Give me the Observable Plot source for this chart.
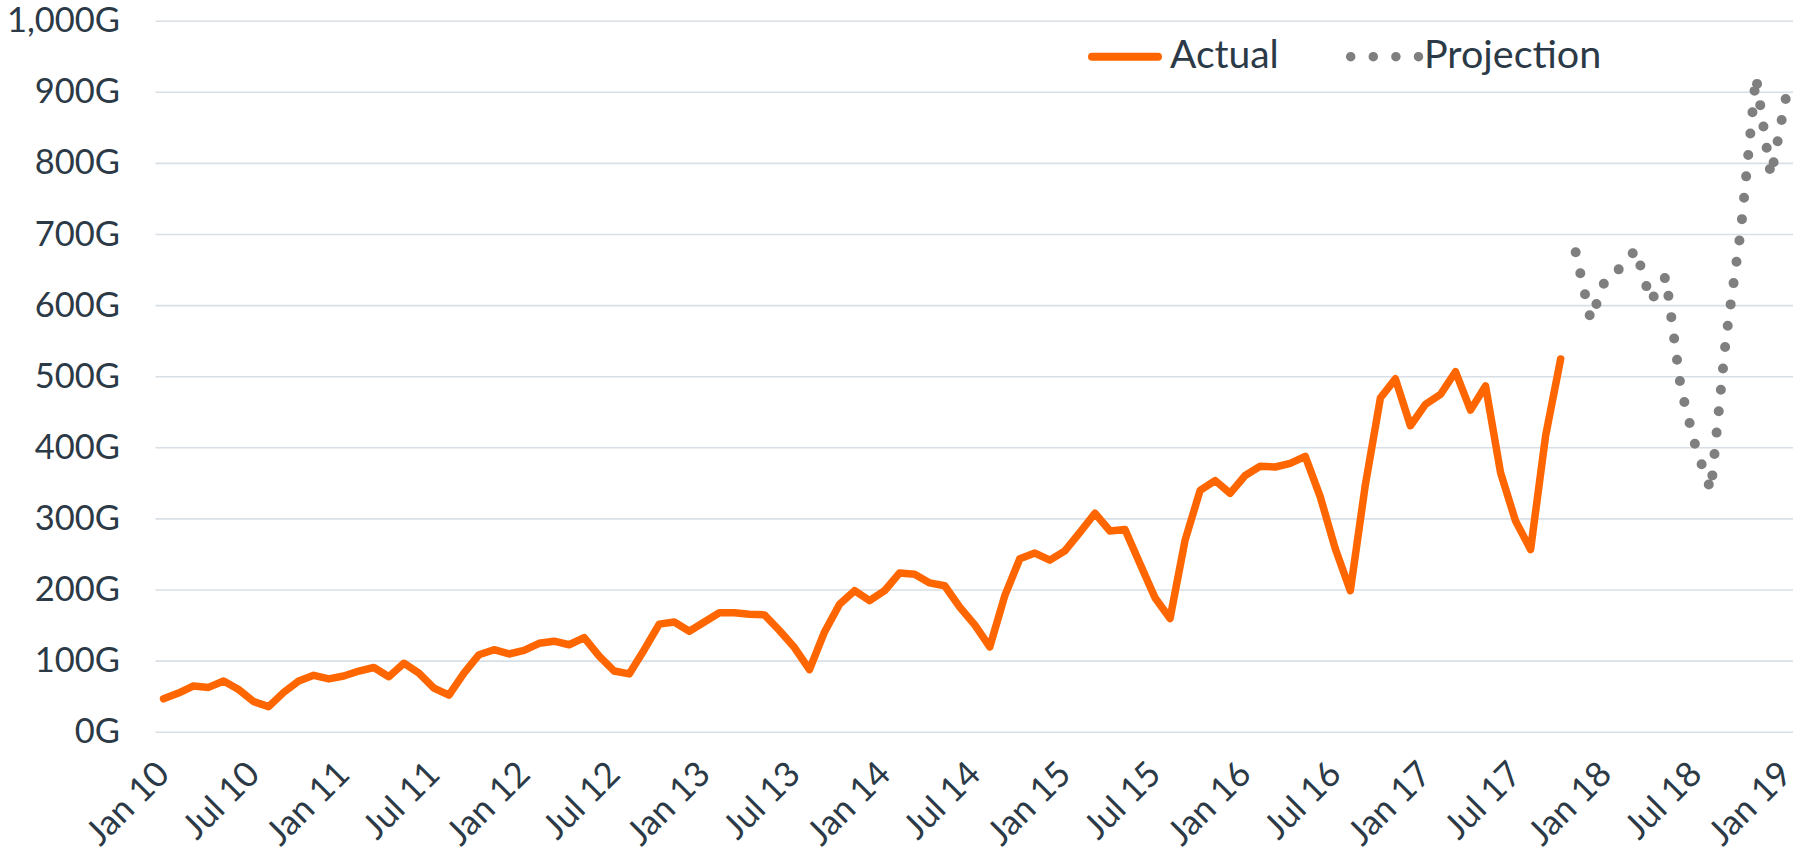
<!DOCTYPE html>
<html>
<head>
<meta charset="utf-8">
<script src="https://cdn.jsdelivr.net/npm/d3@7"></script>
<script src="https://cdn.jsdelivr.net/npm/@observablehq/plot@0.6"></script>
<style>
  html, body { margin: 0; padding: 0; background: #ffffff; }
  #wrap { position: relative; width: 1806px; height: 850px; font-family: Lato, "Open Sans", sans-serif; color: #2b3a46; }
  #legend { position: absolute; left: 0; top: 0; pointer-events: none; }
</style>
</head>
<body>
<div id="wrap">
  <div id="chart"></div>
  <svg id="legend" width="1806" height="100"></svg>
</div>
<script>
// ---- data ----
const actual = [
  47, 55, 65, 63, 72, 60, 43, 36, 56, 72, 80, 75,          // 2010
  79, 86, 91, 78, 97, 83, 62, 52, 83, 109, 116, 110,       // 2011
  115, 125, 128, 123, 133, 107, 86, 82, 116, 152, 155, 142, // 2012
  155, 168, 168, 166, 165, 143, 119, 88, 141, 180, 199, 185, // 2013
  199, 224, 222, 210, 206, 176, 151, 120, 192, 244, 252, 242, // 2014
  255, 281, 308, 283, 285, 237, 189, 160, 270, 340, 354, 336, // 2015
  361, 374, 373, 378, 388, 331, 258, 199, 348, 470, 497, 431, // 2016
  461, 475, 507, 453, 487, 365, 297, 257, 417, 525            // 2017 (Jan–Oct)
];
const projectionStart = 94; // month index of Nov 2017 (Jan 2010 = 0)
const projection = [675, 580, 638, 653, 679, 606, 641, 484, 400, 340, 553, 707, 922, 782, 893]; // Nov 17 – Jan 19
const tickLabels = ["Jan 10","Jul 10","Jan 11","Jul 11","Jan 12","Jul 12","Jan 13","Jul 13","Jan 14","Jul 14","Jan 15","Jul 15","Jan 16","Jul 16","Jan 17","Jul 17","Jan 18","Jul 18","Jan 19"];
const yTicks = [0,100,200,300,400,500,600,700,800,900,1000];
const seriesNames = ["Actual", "Projection"];
const colors = ["#ff6600", "#7f7f7f"];

// ---- table for Plot ----
const actualRows = actual.map((v, i) => ({i, v}));
const projRows = projection.map((v, k) => ({i: projectionStart + k, v}));
const nMonths = (tickLabels.length - 1) * 6 + 1; // 109 months Jan10..Jan19
const xTicks = tickLabels.map((_, k) => k * 6);

const chart = Plot.plot({
  width: 1806,
  height: 850,
  marginLeft: 155.5,
  marginRight: 13,
  marginTop: 20.7,
  marginBottom: 118.3,
  style: {fontFamily: "Lato, 'Open Sans', sans-serif", fontSize: "32px", color: "#2b3a46", background: "#ffffff", overflow: "visible"},
  x: {type: "linear", domain: [-0.5, nMonths - 0.5]},
  y: {domain: [0, 1000]},
  marks: [
    Plot.gridY(yTicks, {stroke: "#d9dfe6", strokeOpacity: 1, strokeWidth: 1.6}),
    Plot.axisY(yTicks, {tickSize: 0, tickPadding: 36, fontSize: 34.5, tickFormat: d => d3.format(",")(d) + "G", label: null}),
    Plot.axisX(xTicks, {tickSize: 0, tickPadding: 30, tickRotate: -45, fontSize: 35, dy: 6, tickFormat: d => tickLabels[d / 6], label: null}),
    Plot.line(actualRows, {x: "i", y: "v", stroke: colors[0], strokeWidth: 7.5, strokeLinejoin: "round", strokeLinecap: "round"}),
    Plot.line(projRows, {x: "i", y: "v", stroke: colors[1], strokeWidth: 10, strokeLinecap: "round", strokeLinejoin: "round", strokeDasharray: "0 21.5"})
  ]
});
document.getElementById("chart").appendChild(chart);

// ---- legend (overlay, inside the plot's top band) ----
const lg = d3.select("#legend");
const fontFam = "Lato, 'Open Sans', sans-serif";
lg.append("line").attr("x1", 1092).attr("x2", 1158).attr("y1", 56.7).attr("y2", 56.7)
  .attr("stroke", colors[0]).attr("stroke-width", 8).attr("stroke-linecap", "round");
lg.append("text").attr("x", 1170).attr("y", 68.3).attr("font-family", fontFam).attr("font-size", 39)
  .attr("fill", "#2b3a46").text(seriesNames[0]);
lg.append("line").attr("x1", 1350.7).attr("x2", 1419).attr("y1", 56.7).attr("y2", 56.7)
  .attr("stroke", colors[1]).attr("stroke-width", 9.5).attr("stroke-linecap", "round").attr("stroke-dasharray", "0 22.6");
lg.append("text").attr("x", 1424).attr("y", 68.3).attr("font-family", fontFam).attr("font-size", 39.5)
  .attr("fill", "#2b3a46").text(seriesNames[1]);
</script>
</body>
</html>
